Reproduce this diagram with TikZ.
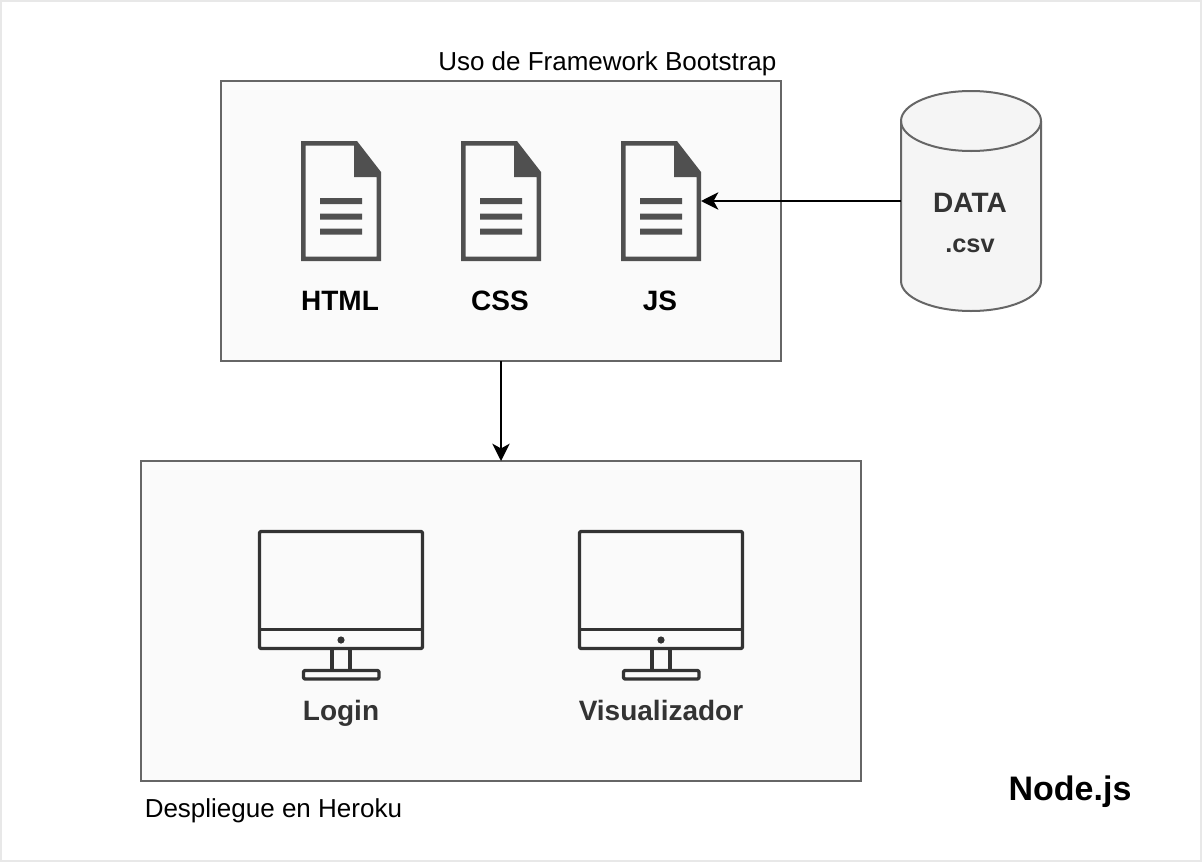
\documentclass[tikz,border=0pt]{standalone}
\usepackage{fontspec}
\setmainfont{Liberation Sans}
\usetikzlibrary{arrows.meta}
\definecolor{boxfill}{HTML}{FAFAFA}
\definecolor{edge}{HTML}{666666}
\definecolor{cylfill}{HTML}{F5F5F5}
\definecolor{filedark}{HTML}{505050}
\definecolor{mon}{HTML}{333333}
\definecolor{frameline}{HTML}{E8E8E8}
\tikzset{
  x=0.75pt, y=-0.75pt,
  panel/.style={draw=edge, fill=boxfill, line width=1.5pt, inner sep=0pt, outer sep=0pt, anchor=north west},
  ghost/.style={inner sep=0pt, outer sep=0pt, anchor=north west},
  conn/.style={draw=black, line width=1.5pt, -{Stealth[length=13pt,width=13pt,inset=3.6pt]}, shorten >=0pt},
  lab/.style={anchor=base, inner sep=0pt, font=\fontsize{21}{21}\selectfont\bfseries},
  plain/.style={anchor=base west, inner sep=0pt, font=\fontsize{19.5}{19.5}\selectfont},
  monline/.style={draw=mon, line width=2.5pt, line join=round},
  fileicon/.pic={
    \fill[filedark, even odd rule] (0,0) -- (56,0) -- (80,31) -- (80,120) -- (0,120) -- cycle
      (4.5,4.5) -- (53,4.5) -- (53,36) -- (75.5,36) -- (75.5,115.5) -- (4.5,115.5) -- cycle;
    \fill[filedark] (19,57) rectangle (61,63) (19,72.5) rectangle (61,78.5) (19,87.5) rectangle (61,93.5);
  },
  monitoricon/.pic={
    \draw[monline, rounded corners=1pt] (0,0) rectangle (163,117);
    \draw[monline] (0,98) -- (163,98);
    \fill[mon] (81.5,108.5) circle[radius=3.6];
    \draw[monline] (72.5,117) -- (72.5,139) (90.5,117) -- (90.5,139);
    \draw[monline, fill=boxfill, rounded corners=1pt] (44,139) rectangle (119.5,147.5);
  },
}
\begin{document}
\begin{tikzpicture}
\useasboundingbox (0,0) rectangle (1204,864);
\fill[white] (0,0) rectangle (1204,864);
\draw[frameline, line width=1.5pt] (1,1) rectangle (1201,861);

\node[panel, minimum width=420pt, minimum height=210pt] (front) at (221,81) {};
\node[panel, minimum width=540pt, minimum height=240pt] (deploy) at (141,461) {};

% files
\node[ghost, minimum width=60pt, minimum height=90pt] (htmlfile) at (301,141) {};
\node[ghost, minimum width=60pt, minimum height=90pt] (cssfile) at (461,141) {};
\node[ghost, minimum width=60pt, minimum height=90pt] (jsfile) at (621,141) {};
\pic at (301,141) {fileicon};
\pic at (461,141) {fileicon};
\pic at (621,141) {fileicon};
\node[lab] (htmllab) at (340,310) {HTML};
\node[lab] (csslab) at (500,310) {CSS};
\node[lab] (jslab) at (660,310) {JS};

% monitors
\pic at (259.5,531.5) {monitoricon};
\pic at (579.5,531.5) {monitoricon};
\node[lab, text=mon] (loginlab) at (341,720) {Login};
\node[lab, text=mon] (vislab) at (661,720) {Visualizador};

% cylinder
\node[ghost, minimum width=105pt, minimum height=165pt] (data) at (901,91) {};
\draw[draw=edge, fill=cylfill, line width=1.5pt]
  (901,121) arc[start angle=180, end angle=0, x radius=70, y radius=-30]
  -- (1041,281) arc[start angle=0, end angle=-180, x radius=70, y radius=-30] -- cycle;
\draw[draw=edge, line width=1.5pt]
  (901,121) arc[start angle=180, end angle=360, x radius=70, y radius=-30];
\node[lab, text=mon] (datalab) at (970,212) {DATA};
\node[lab, text=mon, font=\fontsize{19}{19}\selectfont\bfseries] (csvlab) at (970,252) {.csv};

% texts
\node[plain] (usolab) at (438,70) {Uso de Framework Bootstrap};
\node[plain] (herokulab) at (144.5,817) {Despliegue en Heroku};
\node[lab, font=\fontsize{25.5}{25.5}\selectfont\bfseries] (nodelab) at (1070,800) {Node.js};

% connectors
\draw[conn] (data.west) -- (jsfile.east);
\draw[conn] (front.south) -- (deploy.north);
\end{tikzpicture}
\end{document}
